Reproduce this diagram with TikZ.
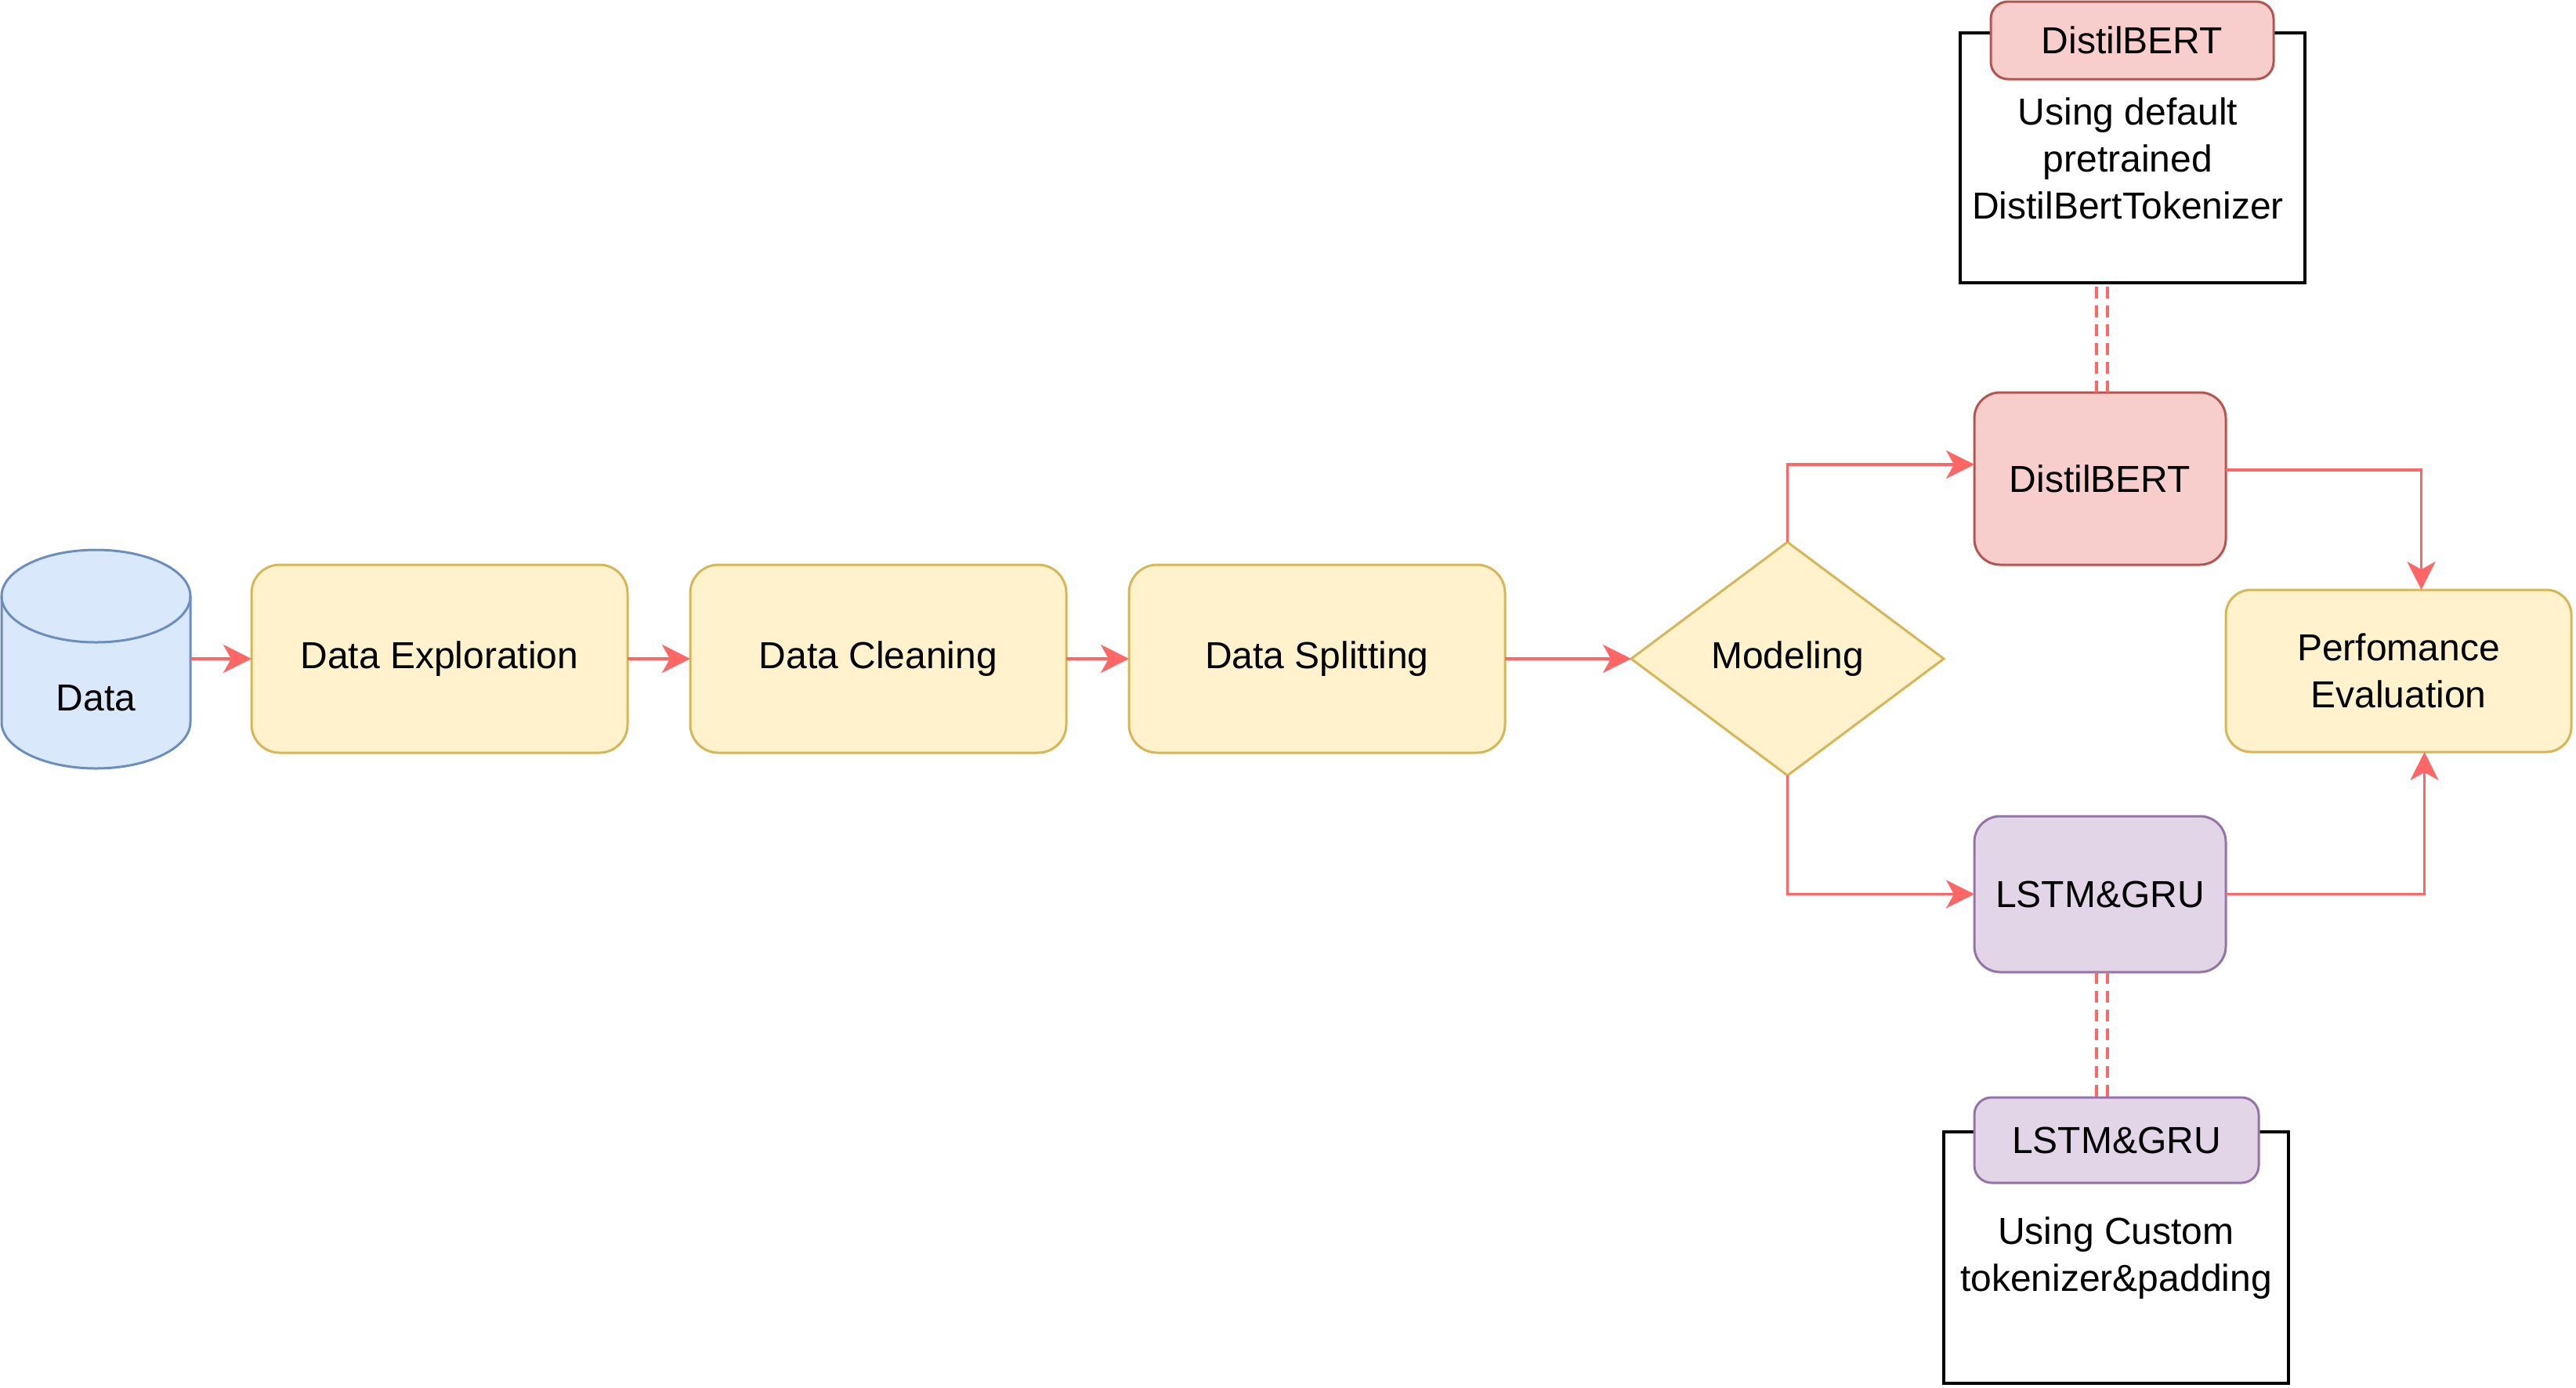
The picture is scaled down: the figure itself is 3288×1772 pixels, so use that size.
\documentclass[tikz,border=0pt]{standalone}
\usepackage{fontspec}
\setmainfont{Liberation Sans}
\usetikzlibrary{arrows.meta,shapes.geometric}
\definecolor{bfill}{HTML}{DAE8FC}
\definecolor{bline}{HTML}{6C8EBF}
\definecolor{yfill}{HTML}{FFF2CC}
\definecolor{yline}{HTML}{D6B656}
\definecolor{rfill}{HTML}{F8CECC}
\definecolor{rline}{HTML}{B85450}
\definecolor{pfill}{HTML}{E1D5E7}
\definecolor{pline}{HTML}{9673A6}
\definecolor{arrred}{HTML}{FF6666}
\begin{document}
\begin{tikzpicture}[x=1pt,y=1pt,
  every node/.style={font=\fontsize{48}{60}\selectfont, inner sep=0pt, outer sep=0pt, align=center},
  ybox/.style={draw=yline, fill=yfill, line width=3pt, rounded corners=36pt, minimum width=480pt, minimum height=240pt},
  rbox/.style={draw=rline, fill=rfill, line width=3pt, rounded corners=33pt},
  pbox/.style={draw=pline, fill=pfill, line width=3pt, rounded corners=33pt},
  notebox/.style={draw=black, fill=white, line width=4pt, minimum width=440pt},
  arr/.style={draw=arrred, line width=3.5pt, -{Stealth[length=36pt, width=36pt, inset=10pt]}},
  dsh/.style={draw=arrred, line width=3.5pt, dash pattern=on 15pt off 9pt}]
\useasboundingbox (0,0) rectangle (3288,-1772);

% Data cylinder
\fill[bfill] (2,-761) -- (2,-922) arc[start angle=180, end angle=360, x radius=120.5, y radius=59]
  -- (243,-761) arc[start angle=0, end angle=180, x radius=120.5, y radius=59] -- cycle;
\draw[bline, line width=3pt] (2,-761) -- (2,-922) arc[start angle=180, end angle=360, x radius=120.5, y radius=59] -- (243,-761);
\draw[bline, line width=3pt] (122.5,-761) ellipse [x radius=120.5, y radius=59];
\node[minimum width=241pt, minimum height=279pt] (data) at (122.5,-841) {};
\node (datalabel) at (122.5,-891) {Data};

% Pipeline boxes
\node[ybox] (explore) at (561,-841) {Data Exploration};
\node[ybox] (clean) at (1121,-841) {Data Cleaning};
\node[ybox] (split) at (1681,-841) {Data Splitting};
\node[diamond, aspect=1.34, draw=yline, fill=yfill, line width=3pt, minimum width=399pt, minimum height=298pt] (model) at (2281.5,-841) {Modeling};

\node[rbox, minimum width=321pt, minimum height=220pt] (distil) at (2680.5,-611) {DistilBERT};
\node[pbox, minimum width=321pt, minimum height=199pt] (lstm) at (2680.5,-1141.5) {LSTM\&GRU};
\node[ybox, rounded corners=32pt, minimum width=441pt, minimum height=207pt] (perf) at (3061.5,-856.5) {Perfomance\\Evaluation};

% Notes
\node[notebox, minimum height=319pt] (topnote) at (2722,-201.5) {};
\node[rbox, rounded corners=22pt, minimum width=361pt, minimum height=99pt] (tophead) at (2721.5,-51.5) {DistilBERT};
\node (toptext) at (2716,-202) {Using default\\pretrained\\DistilBertTokenizer};

\node[notebox, minimum height=321pt] (botnote) at (2701,-1605.5) {};
\node[pbox, rounded corners=22pt, minimum width=363pt, minimum height=109pt] (bothead) at (2701.5,-1455.5) {LSTM\&GRU};
\node (bottext) at (2701,-1606) {Using Custom\\tokenizer\&padding};

% Connectors
\draw[arr] (data.east) -- (explore.west);
\draw[arr] (explore.east) -- (clean.west);
\draw[arr] (clean.east) -- (split.west);
\draw[arr] (split.east) -- (model.west);
\draw[arr] (model.north) |- ([yshift=18pt]distil.west);
\draw[arr] (model.south) |- (lstm.west);
\draw[arr] ([yshift=11pt]distil.east) -| ([xshift=29pt]perf.north);
\draw[arr] (lstm.east) -| ([xshift=33pt]perf.south);

% Dashed double links
\draw[dsh] ([xshift=-4.5pt]distil.north) -- ([xshift=-4.5pt]distil.north |- topnote.south);
\draw[dsh] ([xshift=9.5pt]distil.north) -- ([xshift=9.5pt]distil.north |- topnote.south);
\draw[dsh] ([xshift=-4.5pt]lstm.south) -- ([xshift=-4.5pt]lstm.south |- bothead.north);
\draw[dsh] ([xshift=9.5pt]lstm.south) -- ([xshift=9.5pt]lstm.south |- bothead.north);
\end{tikzpicture}
\end{document}
